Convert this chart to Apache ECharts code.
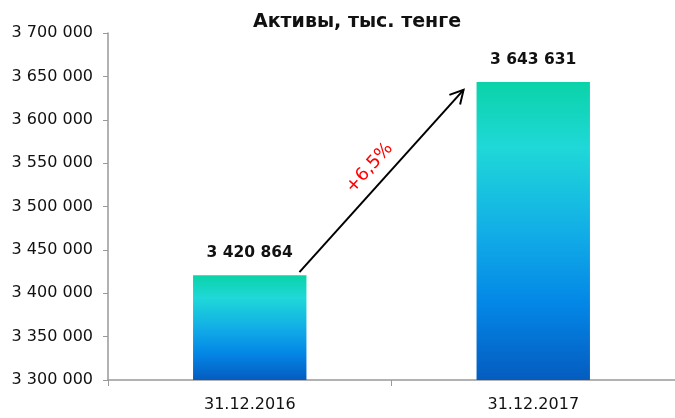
<!DOCTYPE html>
<html>
<head>
<meta charset="utf-8">
<script src="https://cdn.jsdelivr.net/npm/echarts@6/dist/echarts.min.js"></script>
<style>
  html, body { margin: 0; padding: 0; background: #fff; }
  #chart { width: 675px; height: 418px; }
</style>
</head>
<body>
<div id="chart"></div>
<script>
// данные графика
var categories = ['31.12.2016', '31.12.2017'];
var assets = [3420864, 3643631];
var growthLabel = '+6,5%';
var chartTitle = 'Активы, тыс. тенге';

var FONT = 'DejaVu Sans';

function fmt(v) {
  return String(Math.round(v)).replace(/\B(?=(\d{3})+(?!\d))/g, ' ');
}

var chart = echarts.init(document.getElementById('chart'));

var option = {
  animation: false,
  title: {
    text: chartTitle,
    left: 352,
    textAlign: 'center',
    top: 8,
    textStyle: { fontFamily: FONT, fontSize: 19, fontWeight: 'bold', color: '#111' }
  },
  grid: { left: 108, right: 0, top: 33, bottom: 38, containLabel: false },
  xAxis: {
    type: 'category',
    data: categories,
    axisLine: { lineStyle: { color: '#999', width: 1.5 } },
    axisTick: { show: true, length: 6, lineStyle: { color: '#999' } },
    axisLabel: { fontFamily: FONT, fontSize: 16, color: '#111', margin: 17 }
  },
  yAxis: {
    type: 'value',
    min: 3300000,
    max: 3700000,
    interval: 50000,
    axisLine: { show: true, lineStyle: { color: '#999', width: 1.5 } },
    axisTick: { show: true, length: 5, lineStyle: { color: '#999' } },
    splitLine: { show: false },
    axisLabel: {
      fontFamily: FONT, fontSize: 16, color: '#111', margin: 15,
      formatter: fmt
    }
  },
  series: [{
    type: 'bar',
    data: assets,
    barWidth: '40%',
    itemStyle: {
      color: new echarts.graphic.LinearGradient(0, 0, 0, 1, [
        { offset: 0, color: '#0ad3a8' },
        { offset: 0.22, color: '#1fd8d8' },
        { offset: 0.5, color: '#12aee6' },
        { offset: 0.75, color: '#0386e6' },
        { offset: 1, color: '#055cbf' }
      ])
    },
    label: {
      show: true,
      position: 'top',
      distance: 14,
      fontFamily: FONT,
      fontSize: 15.5,
      fontWeight: 'bold',
      color: '#111',
      formatter: function (p) { return fmt(p.value); }
    }
  }]
};

chart.setOption(option);

// стрелка роста между столбцами
var p0 = chart.convertToPixel({ seriesIndex: 0 }, [0, assets[0]]);
var p1 = chart.convertToPixel({ seriesIndex: 0 }, [1, assets[1]]);
var halfW = (p1[0] - p0[0]) * 0.2;
var sx = p0[0] + halfW - 7, sy = p0[1] - 3;
var ex = p1[0] - halfW - 13, ey = p1[1] + 8;
var ang = Math.atan2(ey - sy, ex - sx);
var head = 15, spread = 0.5;
var h1 = [ex - head * Math.cos(ang - spread), ey - head * Math.sin(ang - spread)];
var h2 = [ex - head * Math.cos(ang + spread), ey - head * Math.sin(ang + spread)];
var mx = (sx + ex) / 2, my = (sy + ey) / 2;

chart.setOption({
  graphic: [
    {
      type: 'line',
      shape: { x1: sx, y1: sy, x2: ex, y2: ey },
      style: { stroke: '#000', lineWidth: 2 }
    },
    {
      type: 'polyline',
      shape: { points: [h1, [ex, ey], h2] },
      style: { stroke: '#000', lineWidth: 2, fill: null }
    },
    {
      type: 'text',
      x: mx - 12,
      y: my - 13,
      rotation: -ang,
      style: {
        text: growthLabel,
        fill: '#ff0000',
        fontFamily: FONT,
        fontSize: 18,
        align: 'center',
        verticalAlign: 'middle'
      }
    }
  ]
});
</script>
</body>
</html>
